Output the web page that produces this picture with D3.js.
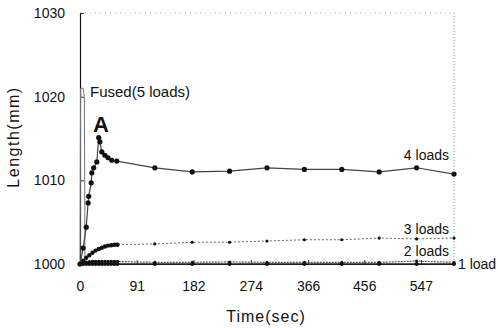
<!DOCTYPE html>
<html>
<head>
<meta charset="utf-8">
<script src="https://cdn.jsdelivr.net/npm/d3@7"></script>
<style>
  body { margin: 0; background: #fff; }
  text { font-family: "Liberation Sans", Arial, sans-serif; fill: #111; }
</style>
</head>
<body>
<script>
// values (time in sec, length in mm)
const time4 = [0, 5, 10, 13, 14, 18, 19, 22, 27, 30, 32, 35, 40, 45, 51, 59, 120, 180, 240, 300, 360, 420, 480, 540, 600];
const load4 = [1000, 1001.9, 1004.4, 1007.3, 1008.1, 1009.7, 1010.9, 1011.5, 1012.2, 1015.1, 1014.6, 1013.4, 1013.0, 1012.7, 1012.4, 1012.3, 1011.5, 1011.0, 1011.1, 1011.5, 1011.3, 1011.3, 1011.0, 1011.5, 1010.75];

const timeLow = [0, 5, 10, 15, 20, 25, 30, 35, 40, 45, 50, 55, 60, 120, 180, 240, 300, 360, 420, 480, 540, 600];
const load3 = [1000, 1000.4, 1000.75, 1001.05, 1001.35, 1001.6, 1001.8, 1001.95, 1002.1, 1002.2, 1002.25, 1002.3, 1002.3, 1002.4, 1002.6, 1002.6, 1002.75, 1002.9, 1002.9, 1003.1, 1003.0, 1003.1];
const load2 = [1000, 1000.1, 1000.2, 1000.25, 1000.3, 1000.3, 1000.3, 1000.3, 1000.3, 1000.3, 1000.3, 1000.3, 1000.3, 1000.2, 1000.2, 1000.25, 1000.2, 1000.2, 1000.2, 1000.2, 1000.35, 1000.2];
const load1 = [1000, 1000, 1000, 1000, 1000, 1000, 1000, 1000, 1000, 1000, 1000, 1000, 1000, 1000, 1000, 1000, 1000, 1000, 1000, 1000, 1000, 1000];

const timeFused = [0, 1, 5, 7, 8];
const loadFused = [1000, 1021, 1021, 1020, 1000];

const xTicks = [0, 91, 182, 274, 366, 456, 547];
const yTicks = [1000, 1010, 1020, 1030];

const svg = d3.select("body").append("svg")
    .attr("width", 498)
    .attr("height", 328);

const x = d3.scaleLinear().domain([0, 600]).range([80, 454]);
const y = d3.scaleLinear().domain([1000, 1030]).range([264, 13]);

// dotted frame on top and right
svg.append("line")
    .attr("x1", x(0)).attr("x2", x(600))
    .attr("y1", y(1030)).attr("y2", y(1030))
    .attr("stroke", "#aaa").attr("stroke-dasharray", "1,4");
svg.append("line")
    .attr("x1", x(600)).attr("x2", x(600))
    .attr("y1", y(1030)).attr("y2", y(1000))
    .attr("stroke", "#999").attr("stroke-dasharray", "1,2");

// axes
const xAxis = svg.append("g")
    .attr("transform", `translate(0,${y(1000)})`)
    .call(d3.axisBottom(x).tickValues(xTicks).tickSizeInner(-4).tickSizeOuter(0).tickPadding(17));
const yAxis = svg.append("g")
    .attr("transform", `translate(${x(0)},0)`)
    .call(d3.axisLeft(y).tickValues(yTicks).tickFormat(d3.format("d")).tickSizeInner(-4).tickSizeOuter(0).tickPadding(15));

[xAxis, yAxis].forEach(a => {
    a.select(".domain").attr("stroke", "#111").attr("stroke-width", 1.2);
    a.selectAll(".tick line").attr("stroke", "#333");
    a.selectAll(".tick text").style("font-size", "14px").attr("fill", "#111");
});

const line = d3.line().x(d => x(d[0])).y(d => y(d[1]));

// early points (first minute) are drawn with bigger markers, as in the picture
const drawSeries = (times, vals, opts) => {
    const pts = times.map((t, i) => [t, vals[i]]);
    svg.append("path")
        .datum(pts)
        .attr("d", line)
        .attr("fill", "none")
        .attr("stroke", opts.stroke)
        .attr("stroke-width", opts.width)
        .attr("stroke-dasharray", opts.dash || null);
    svg.append("g").selectAll("circle")
        .data(pts)
        .join("circle")
        .attr("cx", d => x(d[0]))
        .attr("cy", d => y(d[1]))
        .attr("r", d => d[0] <= 60 ? opts.rEarly : opts.r)
        .attr("fill", "#111");
};

drawSeries(timeFused, loadFused, {stroke: "#777", width: 1, r: 0, rEarly: 0});
drawSeries(timeLow, load1, {stroke: "#222", width: 1.5, r: 2, rEarly: 2});
drawSeries(timeLow, load2, {stroke: "#555", width: 1.2, dash: "2,1", r: 1.5, rEarly: 1.8});
drawSeries(timeLow, load3, {stroke: "#666", width: 1, dash: "2,2", r: 1.6, rEarly: 2.2});
drawSeries(time4, load4, {stroke: "#444", width: 1.2, r: 2.6, rEarly: 2.6});

// series labels
const label = (tx, ty, txt, anchor, size) => svg.append("text")
    .attr("x", tx).attr("y", ty)
    .attr("text-anchor", anchor)
    .style("font-size", size + "px")
    .text(txt);

label(449, 160, "4 loads", "end", 14);
label(449, 234, "3 loads", "end", 14);
label(449, 256, "2 loads", "end", 14);
label(458, 269, "1 load", "start", 14);
label(90, 97, "Fused(5 loads)", "start", 15);
label(101, 132, "A", "middle", 22).style("font-weight", "bold");

// axis titles
svg.append("text")
    .attr("x", 266).attr("y", 322)
    .attr("text-anchor", "middle")
    .style("font-size", "16px")
    .style("letter-spacing", "1px")
    .text("Time(sec)");
svg.append("text")
    .attr("transform", "translate(19,137) rotate(-90)")
    .attr("text-anchor", "middle")
    .style("font-size", "16px")
    .style("letter-spacing", "1.5px")
    .text("Length(mm)");
</script>
</body>
</html>
